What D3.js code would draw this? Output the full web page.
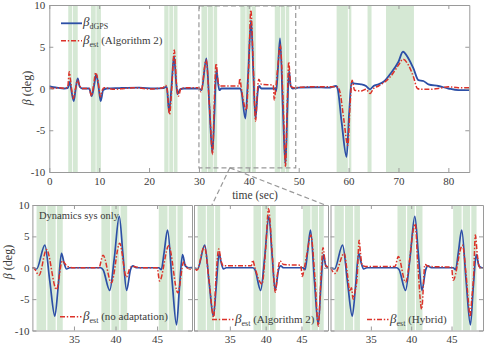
<!DOCTYPE html>
<html>
<head>
<meta charset="utf-8">
<script src="https://cdn.jsdelivr.net/npm/d3@7"></script>
<style>
body { margin: 0; background: #fff; }
svg { display: block; font-family: "Liberation Serif", "Times New Roman", serif; }
</style>
</head>
<body>
<script>
// tick values
const topTimeTicks = [0, 10, 20, 30, 40, 50, 60, 70, 80];
const zoomTimeTicks = [35, 40, 45];
const betaTicks = [-10, -5, 0, 5, 10];

// green shaded intervals (sec)
const bandsOuter = [[3.8, 4.6], [4.75, 5.7], [8.35, 9.3], [9.45, 10.35], [23.05, 23.9], [24.05, 24.8], [24.95, 25.7],
  [57.6, 59.85], [60.05, 60.55], [63.8, 64.6], [67.5, 73.1]];
const bandsZoom = [[30.5, 31.65], [31.8, 32.8], [32.95, 33.65], [38.3, 39.35], [39.5, 40.45], [40.6, 41.4],
  [45.2, 46.25], [46.4, 47.3], [47.45, 48.1]];

// beta dGPS
const dgpsT = [0, 0.5, 1.5, 3, 3.7, 4.1, 4.45, 4.9, 5.3, 5.7, 6.1, 6.6, 8, 8.5, 9, 9.4, 9.85, 10.3, 10.8, 11.5, 14, 18, 21, 23,
  23.4, 23.6, 24, 24.5, 25, 25.4, 25.7, 26.2, 27, 30, 30.5, 31.5, 32.1, 32.7, 33.1, 33.5, 33.8, 34.1, 34.5, 38.2, 38.5, 39.3,
  39.85, 40.45, 40.9, 41.33, 41.8, 42.1, 42.5, 45.2, 45.5, 45.85, 46.26, 46.8, 47.34, 47.7, 48.06, 48.4, 48.8, 50, 53, 56,
  57.5, 57.8, 58.6, 59.6, 60.1, 60.6, 61, 62.5, 63.5, 64.3, 65, 66, 67, 68.3, 70, 70.9, 72, 73, 74, 75, 76, 78, 80, 82, 84.2];
const dgpsBeta = [0.3, 0.2, 0.1, 0, 0.05, 0.8, -0.3, -1.5, 0, 1.2, 0.2, 0, 0, -0.9, 0.4, 1.7, 0.3, -1.5, -0.2, 0, 0.05, 0.1, 0, 0.05,
  0.2, 0, -2.8, 0.2, 3.9, 1, -0.7, -0.1, 0, 0, -0.2, 3.6, -2.2, -7.7, -3, 2.3, 0.8, -0.2, 0, 0, -0.3, -3.6,
  1.5, 8.2, 2, -3.6, -0.3, 0.3, 0, 0, -0.3, 2.5, 6, -2, -9.1, -3, 2.1, 0.3, 0, 0.1, 0.15, 0.1,
  0.3, 0, -4, -8.2, -3, 0.8, 0.6, 0.5, 0.3, -0.1, 0.3, 0.5, 0.8, 1.7, 3.2, 4.4, 3.6, 2.4, 1, 0.9, 0.5, 0.3, 0, -0.2, -0.2];

// beta est, Algorithm 2
const alg2T = [0, 1, 2, 3, 3.7, 4, 4.3, 4.8, 5.2, 5.65, 6.1, 6.6, 8, 8.45, 8.9, 9.3, 9.8, 10.25, 10.6, 11, 13, 15, 17, 20, 22.8,
  23.3, 23.6, 24.1, 24.6, 25.05, 25.5, 25.9, 26.4, 28, 30, 30.4, 31.45, 32.1, 32.75, 33.05, 33.45, 33.8, 34.1, 36, 38, 38.2,
  38.5, 39.5, 40, 40.4, 40.9, 41.35, 41.7, 42, 42.5, 44.9, 45.1, 45.4, 45.8, 46.3, 46.9, 47.35, 47.7, 48, 48.4, 49, 52, 55,
  57.8, 58.3, 59, 59.85, 60.3, 60.7, 61.2, 62.5, 63.5, 64.3, 65, 66, 68.5, 70, 70.9, 72, 73, 73.8, 74.5, 76, 78, 80, 82, 84.2];
const alg2Beta = [0.1, 0, 0.1, 0, 0.2, 2, 0.8, -1.2, -0.2, 1, 0.3, 0, 0, -0.9, 0.5, 1.9, 0.8, -1, -0.2, 0.1, -0.1, 0, 0.1, -0.05, 0.1,
  0.4, 0, -3.1, 0.5, 4.6, 0.5, -0.9, 0, 0.1, 0.1, -0.4, 3.4, -2, -7.9, -2, 3, 1, 0.3, 0.3, 0.3, 1.2,
  0, -2.6, 3, 9.4, 2.5, -3.9, -0.5, 1.1, 0.5, 0.4, -1.4, 0, 2.5, 5.2, -2, -9.3, -2, 3.2, 0.3, 0.1, 0.2, 0.2,
  0.2, -0.5, -3.5, -6.8, -2, 1, -0.2, -0.3, -0.1, -0.6, 0, 0.3, 1.5, 2.8, 3.5, 2.8, 1.4, 0, -0.1, -0.1, 0, 0.2, 0.1, 0.1];

// beta est, no adaptation
const noAdaptT = [30, 30.2, 30.8, 31.7, 32.9, 33.6, 34.2, 35, 38, 38.5, 39.5, 40.5, 41.3, 41.8, 42.2, 43, 45, 45.3, 46.4,
  47.5, 48.2, 48.6, 49.2];
const noAdaptBeta = [0, -0.1, -1.2, 2.9, -3.5, 1.1, 0.2, 0, 0, 2, -2.4, 3.9, -1.5, 0.1, 0.2, 0, 0, -2.1, 3.5,
  -4, 0.9, 0, -0.3];

// beta est, hybrid
const hybridT = [30, 30.56, 31.7, 32.1, 32.4, 32.6, 32.8, 33, 33.3, 33.55, 33.7, 33.9, 34.3, 38, 38.4, 39.3, 40.5, 40.8,
  41.3, 41.7, 42.2, 45, 45.2, 46.35, 46.8, 47.1, 47.3, 47.5, 47.75, 47.95, 48.2, 48.5, 49];
const hybridBeta = [0, -0.9, 2.3, -1, -3.8, -3.2, -5, -4, -1.5, 4.4, 2.5, 0.5, 0.2, 0.2, 1.8, -2.3, 7, 1,
  -6.6, 0.5, 0.2, 0.1, -2, 3.6, -1, -5.5, -7.8, -5, -1, 5.2, 2, 0, 0];

const W = 485, H = 345;
const blue = "#2c4fa6", red = "#dc3229", green = "#d5e8d4", boxGray = "#9a9a9a", textCol = "#3a3a3a";
const redDash = "5,1.8,1.4,1.8";

const svg = d3.select("body").append("svg").attr("width", W).attr("height", H);

function drawAxes(g, x, y, xTicks, showXLabels, showYLabels, pad) {
  const fmt = d => String(d);
  const h = y.range()[0], top = y.range()[1], x0 = x.range()[0], x1 = x.range()[1];
  const axes = [
    g.append("g").attr("transform", `translate(0,${h})`)
      .call(d3.axisBottom(x).tickValues(xTicks).tickSizeInner(-4).tickSizeOuter(0).tickPadding(pad.x)
        .tickFormat(showXLabels ? fmt : () => "")),
    g.append("g").attr("transform", `translate(0,${top})`)
      .call(d3.axisTop(x).tickValues(xTicks).tickSizeInner(-4).tickSizeOuter(0).tickFormat(() => "")),
    g.append("g").attr("transform", `translate(${x0},0)`)
      .call(d3.axisLeft(y).tickValues(betaTicks).tickSizeInner(-4).tickSizeOuter(0).tickPadding(pad.y)
        .tickFormat(showYLabels ? fmt : () => "")),
    g.append("g").attr("transform", `translate(${x1},0)`)
      .call(d3.axisRight(y).tickValues(betaTicks).tickSizeInner(-4).tickSizeOuter(0).tickFormat(() => ""))
  ];
  axes.forEach(a => {
    a.select(".domain").attr("stroke", boxGray);
    a.selectAll(".tick line").attr("stroke", boxGray);
    a.selectAll("text").attr("fill", textCol).attr("font-size", 11)
      .attr("font-family", "Liberation Serif, serif");
  });
}

function drawPlot(g, id, x, y, bands, series) {
  const x0 = x.range()[0], x1 = x.range()[1], yb = y.range()[0], yt = y.range()[1];
  g.append("clipPath").attr("id", id).append("rect")
    .attr("x", x0).attr("y", yt).attr("width", x1 - x0).attr("height", yb - yt);
  const inner = g.append("g").attr("clip-path", `url(#${id})`);
  inner.selectAll("rect.band").data(bands).join("rect")
    .attr("class", "band")
    .attr("x", d => x(d[0])).attr("width", d => x(d[1]) - x(d[0]))
    .attr("y", yt).attr("height", yb - yt)
    .attr("fill", green);
  const line = d3.line().x(d => x(d[0])).y(d => y(d[1])).curve(d3.curveMonotoneX);
  series.forEach(s => {
    inner.append("path")
      .attr("d", line(d3.zip(s.t, s.v)))
      .attr("fill", "none")
      .attr("stroke", s.color)
      .attr("stroke-width", s.width)
      .attr("stroke-dasharray", s.dash || null)
      .attr("stroke-linejoin", "round");
  });
}

function betaLabel(g, bx, by, sub, rest) {
  const t = g.append("text").attr("x", bx).attr("y", by).attr("fill", textCol).attr("font-size", 11);
  t.append("tspan").attr("font-style", "italic").attr("font-size", 13).text("β");
  t.append("tspan").attr("font-size", 8).attr("dy", 3).text(sub);
  if (rest) t.append("tspan").attr("dy", -3).text(" " + rest);
}

// ---------- top plot ----------
const topX = d3.scaleLinear().domain([0, 84.2]).range([49.3, 469.3]);
const topY = d3.scaleLinear().domain([-10, 10]).range([172, 5]);
const gTop = svg.append("g");

drawPlot(gTop, "clipTop", topX, topY, bandsOuter.concat(bandsZoom), [
  {t: dgpsT, v: dgpsBeta, color: blue, width: 1.8},
  {t: alg2T, v: alg2Beta, color: red, width: 1.5, dash: redDash}
]);
drawAxes(gTop, topX, topY, topTimeTicks, true, true, {x: 5, y: 4});

// zoom window
const zoomWin = {t0: 30, t1: 49.4, lo: -9.5, hi: 9.9};
gTop.append("rect")
  .attr("x", topX(zoomWin.t0)).attr("y", topY(zoomWin.hi))
  .attr("width", topX(zoomWin.t1) - topX(zoomWin.t0))
  .attr("height", topY(zoomWin.lo) - topY(zoomWin.hi))
  .attr("fill", "none").attr("stroke", "#999").attr("stroke-width", 1.2).attr("stroke-dasharray", "5,3");

// legend
gTop.append("line").attr("x1", 61).attr("x2", 82).attr("y1", 23.3).attr("y2", 23.3)
  .attr("stroke", blue).attr("stroke-width", 1.8);
betaLabel(gTop, 83, 26, "dGPS", null);
gTop.append("line").attr("x1", 61).attr("x2", 82).attr("y1", 40.7).attr("y2", 40.7)
  .attr("stroke", red).attr("stroke-width", 1.5).attr("stroke-dasharray", redDash);
betaLabel(gTop, 83, 43.5, "est", "(Algorithm 2)");

gTop.append("text").attr("x", 255).attr("y", 198.5).attr("text-anchor", "middle")
  .attr("fill", textCol).attr("font-size", 11.5).text("time (sec)");

const yl = gTop.append("text").attr("transform", "translate(31,88) rotate(-90)")
  .attr("text-anchor", "middle").attr("fill", textCol).attr("font-size", 12);
yl.append("tspan").attr("font-style", "italic").text("β");
yl.append("tspan").text(" (deg)");

// ---------- bottom panels ----------
const botY = d3.scaleLinear().domain([-10, 10]).range([330.5, 205]);
const panels = [
  {x: d3.scaleLinear().domain([30, 49.2]).range([32.4, 192]), t: noAdaptT, v: noAdaptBeta, label: "(no adaptation)", lx: 60},
  {x: d3.scaleLinear().domain([30, 48.7]).range([194, 328]), t: alg2T, v: alg2Beta, label: "(Algorithm 2)", lx: 212},
  {x: d3.scaleLinear().domain([30, 48.9]).range([330.5, 483]), t: hybridT, v: hybridBeta, label: "(Hybrid)", lx: 367}
];

// connector lines from the zoom window to the panels
const apex = [topX(36.2), topY(zoomWin.lo)];
[[panels[1].x(32.5), botY(10)], [panels[1].x(48.3), botY(10)]].forEach(p => {
  svg.append("line").attr("x1", apex[0]).attr("y1", apex[1]).attr("x2", p[0]).attr("y2", p[1])
    .attr("stroke", "#999").attr("stroke-width", 1.2).attr("stroke-dasharray", "5,3");
});

panels.forEach((p, i) => {
  const g = svg.append("g");
  drawPlot(g, "clipBot" + i, p.x, botY, bandsZoom, [
    {t: dgpsT, v: dgpsBeta, color: blue, width: 1.7},
    {t: p.t, v: p.v, color: red, width: 1.5, dash: redDash}
  ]);
  drawAxes(g, p.x, botY, zoomTimeTicks, true, i === 0, {x: 4.5, y: 3});
  const ly = i === 0 ? 316.7 : 319.5;
  g.append("line").attr("x1", p.lx).attr("x2", p.lx + 21.5).attr("y1", ly).attr("y2", ly)
    .attr("stroke", red).attr("stroke-width", 1.5).attr("stroke-dasharray", redDash);
  betaLabel(g, p.lx + 23, ly + 3, "est", p.label);
});

svg.append("text").attr("x", 39).attr("y", 218.5).attr("fill", textCol).attr("font-size", 10.5)
  .text("Dynamics sys only");

const yl2 = svg.append("text").attr("transform", "translate(12,262) rotate(-90)")
  .attr("text-anchor", "middle").attr("fill", textCol).attr("font-size", 12);
yl2.append("tspan").attr("font-style", "italic").text("β");
yl2.append("tspan").text(" (deg)");
</script>
</body>
</html>
